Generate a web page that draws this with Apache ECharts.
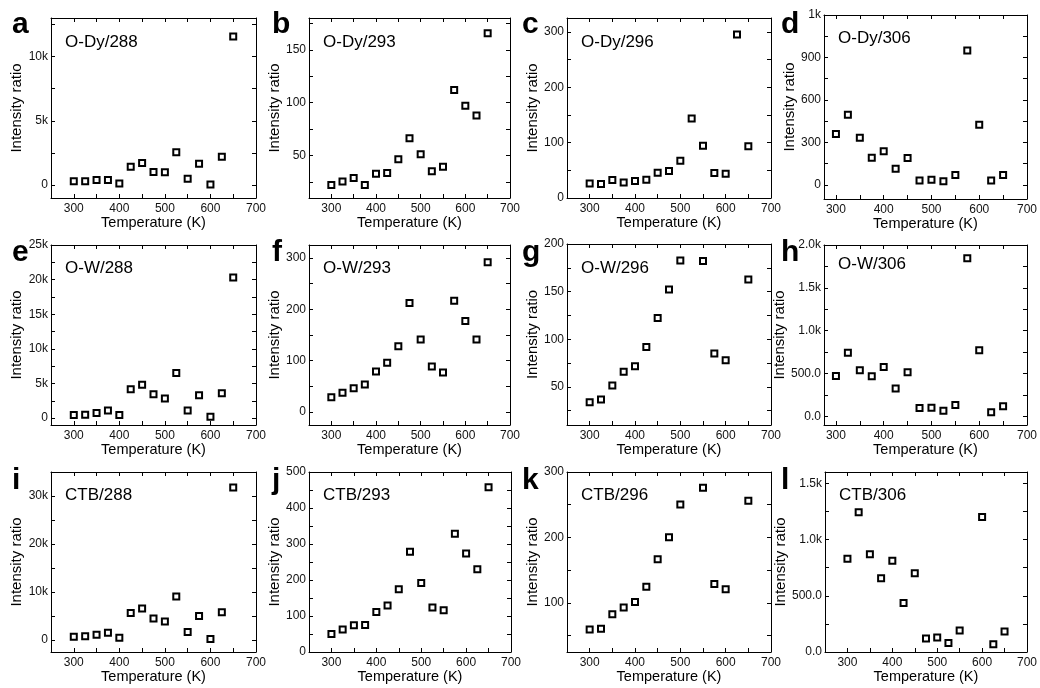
<!DOCTYPE html>
<html>
<head>
<meta charset="utf-8">
<script src="https://cdn.jsdelivr.net/npm/echarts@6/dist/echarts.min.js"></script>
<style>
html, body { margin: 0; padding: 0; background: #fff; }
#main { width: 1040px; height: 688px; }
</style>
</head>
<body>
<div id="main"></div>
<script>
// temperatures (K)
var temps = [300, 325, 350, 375, 400, 425, 450, 475, 500, 525, 550, 575, 600, 625, 650];
var temps13 = [300, 325, 350, 375, 400, 425, 450, 475, 500, 550, 575, 600, 650];
var temps14 = [300, 325, 350, 375, 400, 425, 450, 475, 500, 525, 550, 600, 625, 650];

// intensity ratios
var oDy288 = [300, 300, 400, 400, 130, 1430, 1720, 1020, 1000, 2550, 500, 1670, 50, 2210, 11560];
var oDy293 = [22.3, 25.5, 29, 22.3, 33, 33.6, 46.5, 66.4, 51.3, 35.2, 39.6, 112, 97.2, 88, 165.7];
var oDy296 = [26.4, 25.2, 32.4, 28.2, 30.6, 33, 45.6, 48.6, 67.2, 143.4, 94.2, 45, 43.8, 295, 93.6];
var oDy306 = [359, 496, 332, 192, 237, 114, 190, 31, 36, 26, 69, 950, 425, 31, 69];
var oW288 = [430, 480, 720, 1100, 430, 4160, 4830, 3450, 2820, 6510, 1100, 3300, 190, 3590, 20290];
var oW293 = [29.2, 37.6, 46.7, 53.8, 79, 95.9, 128.3, 212, 141.3, 88.8, 77.1, 216.5, 177, 141.3, 291.6];
var oW296 = [33.9, 36.7, 51.4, 65.8, 71.7, 92, 122.2, 152.3, 182.8, 182.1, 85, 78, 162.8];
var oW306 = [473, 744, 539, 469, 577, 326, 516, 97, 101, 66, 132, 1845, 771, 50, 120];
var ctb288 = [690, 760, 1110, 1520, 480, 5600, 6570, 4490, 3870, 9050, 1660, 4980, 210, 5800, 31790];
var ctb293 = [50.1, 62.2, 74.2, 75.1, 111.3, 129, 174.4, 278.3, 192, 123.4, 116, 328.4, 273.7, 230, 457.3];
var ctb296 = [59.2, 60.7, 82.7, 92.9, 101.5, 124.5, 166.8, 200.5, 250.5, 276, 129, 121, 256];
var ctb306 = [829, 1243, 870, 656, 811, 435, 700, 119, 128, 80, 191, 1201, 69, 182];

// tick labels
var xTicks = [300, 400, 500, 600, 700];
var xLabels = ["300", "400", "500", "600", "700"];
var yTicksA = [0, 5000, 10000], yLabelsA = ["0", "5k", "10k"];
var yTicksB = [50, 100, 150], yLabelsB = ["50", "100", "150"];
var yTicksC = [0, 100, 200, 300], yLabelsC = ["0", "100", "200", "300"];
var yTicksD = [0, 300, 600, 900, 1200], yLabelsD = ["0", "300", "600", "900", "1k"];
var yTicksE = [0, 5000, 10000, 15000, 20000, 25000], yLabelsE = ["0", "5k", "10k", "15k", "20k", "25k"];
var yTicksF = [0, 100, 200, 300], yLabelsF = ["0", "100", "200", "300"];
var yTicksG = [50, 100, 150, 200], yLabelsG = ["50", "100", "150", "200"];
var yTicksH = [0, 500, 1000, 1500, 2000], yLabelsH = ["0.0", "500.0", "1.0k", "1.5k", "2.0k"];
var yTicksI = [0, 10000, 20000, 30000], yLabelsI = ["0", "10k", "20k", "30k"];
var yTicksJ = [0, 100, 200, 300, 400, 500], yLabelsJ = ["0", "100", "200", "300", "400", "500"];
var yTicksK = [100, 200, 300], yLabelsK = ["100", "200", "300"];
var yTicksL = [0, 500, 1000, 1500], yLabelsL = ["0.0", "500.0", "1.0k", "1.5k"];

var panels = [
    { letter: "a", name: "O-Dy/288", x: temps, y: oDy288, xMin: 250, yMin: -1000, yMax: 13000, yStep: 2500, yt: yTicksA, yl: yLabelsA, grid: [51, 18, 205, 180] },
    { letter: "b", name: "O-Dy/293", x: temps, y: oDy293, xMin: 250, yMin: 10, yMax: 180, yStep: 25, yt: yTicksB, yl: yLabelsB, grid: [309, 18, 201, 180] },
    { letter: "c", name: "O-Dy/296", x: temps, y: oDy296, xMin: 250, yMin: 0, yMax: 325, yStep: 50, yt: yTicksC, yl: yLabelsC, grid: [567, 18, 204, 180] },
    { letter: "d", name: "O-Dy/306", x: temps, y: oDy306, xMin: 275, yMin: -100, yMax: 1200, yStep: 150, yt: yTicksD, yl: yLabelsD, grid: [824, 15, 205, 184] },
    { letter: "e", name: "O-W/288", x: temps, y: oW288, xMin: 250, yMin: -1000, yMax: 25000, yStep: 2500, yt: yTicksE, yl: yLabelsE, grid: [51, 245, 205, 180] },
    { letter: "f", name: "O-W/293", x: temps, y: oW293, xMin: 250, yMin: -25, yMax: 325, yStep: 50, yt: yTicksF, yl: yLabelsF, grid: [309, 245, 201, 180] },
    { letter: "g", name: "O-W/296", x: temps13, y: oW296, xMin: 250, yMin: 10, yMax: 200, yStep: 25, yt: yTicksG, yl: yLabelsG, grid: [567, 244, 204, 181] },
    { letter: "h", name: "O-W/306", x: temps, y: oW306, xMin: 275, yMin: -100, yMax: 2000, yStep: 250, yt: yTicksH, yl: yLabelsH, grid: [824, 245, 204, 180] },
    { letter: "i", name: "CTB/288", x: temps, y: ctb288, xMin: 250, yMin: -2500, yMax: 35000, yStep: 5000, yt: yTicksI, yl: yLabelsI, grid: [51, 472, 205, 180] },
    { letter: "j", name: "CTB/293", x: temps, y: ctb293, xMin: 250, yMin: 0, yMax: 500, yStep: 50, yt: yTicksJ, yl: yLabelsJ, grid: [309, 472, 202, 180] },
    { letter: "k", name: "CTB/296", x: temps13, y: ctb296, xMin: 250, yMin: 25, yMax: 300, yStep: 50, yt: yTicksK, yl: yLabelsK, grid: [567, 472, 204, 180] },
    { letter: "l", name: "CTB/306", x: temps14, y: ctb306, xMin: 250, yMin: 0, yMax: 1600, yStep: 250, yt: yTicksL, yl: yLabelsL, grid: [825, 472, 204, 180] }
];

var FONT = "Arial, 'Liberation Sans', sans-serif";

function stepTicks(min, max, step) {
    var out = [];
    for (var v = Math.ceil(min / step) * step; v <= max + 1e-9; v += step) out.push(v);
    return out;
}

function lookup(values, labels) {
    return function (v) {
        var i = values.indexOf(v);
        return i < 0 ? "" : labels[i];
    };
}

var grids = [], xAxes = [], yAxes = [], series = [], graphics = [];
var lineStyle = { color: "#000", width: 1 };

panels.forEach(function (p, i) {
    var g = p.grid;
    var col = i % 4, row = Math.floor(i / 4);
    grids.push({ left: g[0], top: g[1], width: g[2], height: g[3] });
    var xt = stepTicks(p.xMin, 700, 50);
    var yt = stepTicks(p.yMin, p.yMax, p.yStep);

    xAxes.push({
        type: "value", gridIndex: i, position: "bottom", min: p.xMin, max: 700,
        name: "Temperature (K)", nameLocation: "middle", nameGap: [9, 9, 13][row],
        nameTextStyle: { fontSize: 14.5, color: "#000", fontFamily: FONT },
        axisLine: { show: true, onZero: false, lineStyle: lineStyle },
        axisTick: { show: true, inside: true, length: 4, lineStyle: lineStyle, customValues: xt },
        axisLabel: { fontSize: 12, color: "#111", fontFamily: FONT, margin: 5, customValues: xTicks, formatter: lookup(xTicks, xLabels) },
        splitLine: { show: false }
    });
    xAxes.push({
        type: "value", gridIndex: i, position: "top", min: p.xMin, max: 700,
        axisLine: { show: true, onZero: false, lineStyle: lineStyle },
        axisTick: { show: true, inside: true, length: 4, lineStyle: lineStyle, customValues: xt },
        axisLabel: { show: false },
        splitLine: { show: false }
    });
    yAxes.push({
        type: "value", gridIndex: i, position: "left", min: p.yMin, max: p.yMax,
        name: "Intensity ratio", nameLocation: "middle", nameGap: 27,
        nameTextStyle: { fontSize: 15, color: "#000", fontFamily: FONT },
        axisLine: { show: true, onZero: false, lineStyle: lineStyle },
        axisTick: { show: true, inside: true, length: 4, lineStyle: lineStyle, customValues: yt },
        axisLabel: { fontSize: 12, color: "#111", fontFamily: FONT, margin: 3, customValues: p.yt, formatter: lookup(p.yt, p.yl) },
        splitLine: { show: false }
    });
    yAxes.push({
        type: "value", gridIndex: i, position: "right", min: p.yMin, max: p.yMax,
        axisLine: { show: true, onZero: false, lineStyle: lineStyle },
        axisTick: { show: true, inside: true, length: 4, lineStyle: lineStyle, customValues: yt },
        axisLabel: { show: false },
        splitLine: { show: false }
    });

    series.push({
        type: "scatter", xAxisIndex: 2 * i, yAxisIndex: 2 * i,
        symbol: "rect", symbolSize: 6,
        itemStyle: { color: "#fff", borderColor: "#000", borderWidth: 2, opacity: 1 },
        data: p.x.map(function (t, k) { return [t, p.y[k]]; }),
        silent: true
    });

    var letterX = [12, 272, 522, 781][col];
    var baseY = [32, 260, 488][row];
    graphics.push({
        type: "text", left: letterX, top: baseY - 22,
        style: { text: p.letter, font: "bold 30px " + FONT, fill: "#000" }
    });
    var labelBase = [47, 273, 500][row] - (col === 3 && row < 2 ? 4 : 0);
    graphics.push({
        type: "text", left: g[0] + 14, top: labelBase - 13,
        style: { text: p.name, font: "17px " + FONT, fill: "#000" }
    });
});

var myChart = echarts.init(document.getElementById("main"));
myChart.setOption({
    backgroundColor: "#fff",
    animation: false,
    grid: grids,
    xAxis: xAxes,
    yAxis: yAxes,
    series: series,
    graphic: graphics
});
window.addEventListener("resize", function () {
    myChart.resize();
});
</script>
</body>
</html>
